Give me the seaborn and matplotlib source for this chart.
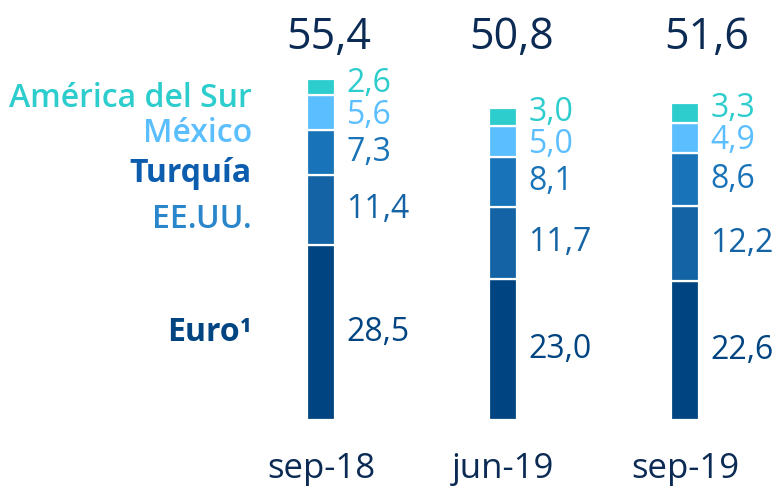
import matplotlib
matplotlib.use("Agg")
import matplotlib.pyplot as plt
import seaborn as sns
import numpy as np
import pandas as pd

# Period labels and stacked components (bottom to top)
periods = ["sep-18", "jun-19", "sep-19"]
regions = ["Euro¹", "EE.UU.", "Turquía", "México", "América del Sur"]
euro = [28.5, 23.0, 22.6]
eeuu = [11.4, 11.7, 12.2]
turquia = [7.3, 8.1, 8.6]
mexico = [5.6, 5.0, 4.9]
america_sur = [2.6, 3.0, 3.3]
totals = [55.4, 50.8, 51.6]

series = [euro, eeuu, turquia, mexico, america_sur]
bar_colors = ["#004481", "#1464A5", "#1973B8", "#5BBEFF", "#2DCCCD"]
value_colors = ["#004481", "#1464A5", "#1973B8", "#5BBEFF", "#2DCCCD"]
region_colors = ["#004481", "#2A86CA", "#0D5DAE", "#5BBEFF", "#2DCCCD"]
region_weights = ["bold", "semibold", "bold", "semibold", "semibold"]
region_baselines = [12.8, 31.2, 38.7, 45.2, 50.9]
navy = "#0C2B54"

sns.set_theme(style="white")
plt.rcParams["font.family"] = ["Open Sans", "DejaVu Sans"]

W, H = 773, 491
fig = plt.figure(figsize=(W / 100, H / 100), dpi=100)
px_per_unit = 6.15
x0_px, dx_px, base_px = 321, 182, 420
ax = fig.add_axes([0, (H - base_px) / H, 1, base_px / H])

df = pd.DataFrame({"period": periods})
bottom = np.zeros(len(periods))
for name, vals, col in zip(regions, series, bar_colors):
    df[name] = vals
    sns.barplot(data=df, x="period", y=name, color=col, width=0.15,
                saturation=1, bottom=bottom.copy(), edgecolor="white",
                linewidth=1.6, ax=ax, order=periods)
    bottom += np.array(vals)

ax.set_xlim(-x0_px / dx_px, (W - x0_px) / dx_px)
ax.set_ylim(0, base_px / px_per_unit)
ax.set_xlabel("")
ax.set_ylabel("")
ax.set_yticks([])
for s in ax.spines.values():
    s.set_visible(False)
ax.tick_params(axis="x", length=0, pad=23, labelsize=25, labelcolor=navy)

# Segment values to the right of each bar
nudges = [0, 0, 0, -2, 3]
total_dx = [0.04, 0.05, 0.12]
for i in range(len(periods)):
    cum = 0.0
    for k, vals in enumerate(series):
        mid = cum + vals[i] / 2
        cum += vals[i]
        ax.annotate(f"{vals[i]:.1f}".replace(".", ","), xy=(i + 0.14, mid),
                    xytext=(0, nudges[k]), textcoords="offset points",
                    ha="left", va="center", fontsize=23,
                    color=value_colors[k])
    ax.text(i + total_dx[i], (base_px - 49) / base_px,
            f"{totals[i]:.1f}".replace(".", ","),
            transform=ax.get_xaxis_transform(), ha="center", va="baseline",
            fontsize=31, color=navy)

# Region names on the left
lx = (252 - x0_px) / dx_px
for name, col, wt, yb in zip(regions, region_colors, region_weights, region_baselines):
    ax.text(lx, yb, name, ha="right", va="baseline", fontsize=23,
            fontweight=wt, color=col)

fig.savefig("out.png", dpi=100)
